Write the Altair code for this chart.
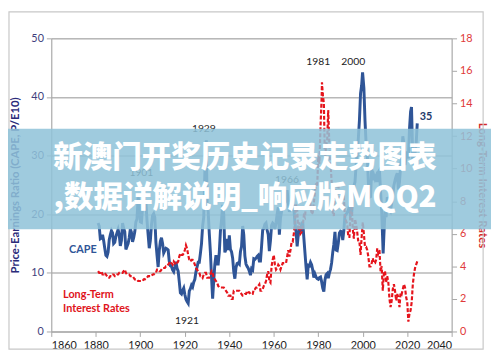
import altair as alt
import pandas as pd

# ---------------- data ----------------
cape_start = 1881
# January values (Shiller CAPE)
cape_jan = [18.5, 15.8, 16.5, 14.2, 12.8, 15.6, 17.2, 15.0, 16.2, 17.4,
            14.6, 18.5, 17.0, 14.5, 16.0, 16.9, 16.0, 18.7, 22.9, 18.7,
            21.2, 21.0, 18.9, 14.2, 18.2, 20.1, 15.2, 11.0, 15.4, 15.0,
            13.8, 14.1, 12.0, 11.1, 10.2, 11.9, 10.3, 6.6, 7.0, 6.3,
            5.1, 6.9, 7.9, 8.4, 10.2, 11.8, 13.3, 18.0, 27.1, 21.9,
            16.7, 9.3, 8.7, 13.0, 11.5, 17.1, 21.6, 13.5, 15.8, 16.4,
            13.6, 10.2, 10.9, 11.7, 13.6, 18.0, 12.9, 11.1, 10.3, 10.7,
            12.4, 12.5, 13.0, 12.0, 17.3, 18.3, 17.3, 13.7, 18.1, 18.3,
            18.5, 21.2, 19.3, 21.6, 23.3, 24.1, 20.4, 21.5, 21.2, 17.1,
            16.5, 17.3, 18.7, 13.5, 8.9, 11.2, 11.4, 9.2, 9.3, 8.9,
            9.3, 7.4, 8.8, 9.9, 10.0, 11.7, 14.9, 13.9, 15.1, 17.1,
            15.6, 19.8, 20.3, 21.4, 20.2, 24.8, 28.3, 32.9, 40.6, 43.8,
            36.0, 30.3, 22.9, 27.7, 26.6, 26.5, 27.2, 24.0, 15.2, 20.5,
            22.9, 21.2, 21.9, 24.9, 26.5, 24.2, 28.1, 33.3, 28.4, 30.7,
            34.5, 36.9, 28.7, 32.0]
# July values
cape_jul = [18.0, 15.9, 15.5, 13.0, 13.5, 16.5, 16.8, 15.2, 16.8, 16.5,
            15.5, 17.6, 14.0, 15.0, 17.5, 15.3, 17.0, 19.2, 22.0, 18.6,
            24.5, 22.0, 16.5, 15.5, 19.8, 19.5, 13.0, 13.8, 16.0, 13.4,
            14.2, 13.9, 11.2, 10.5, 11.0, 10.8, 8.5, 6.4, 7.4, 5.5,
            4.8, 7.3, 7.6, 8.9, 11.0, 11.8, 15.0, 19.5, 31.0, 20.5,
            13.5, 5.6, 11.5, 11.5, 13.5, 19.0, 20.0, 14.0, 13.9, 14.0,
            12.5, 9.0, 11.6, 11.5, 14.5, 16.5, 11.5, 10.8, 9.6, 10.5,
            12.3, 12.8, 12.0, 14.5, 17.6, 18.5, 16.5, 15.5, 18.5, 17.5,
            20.0, 16.5, 20.5, 22.5, 22.8, 22.0, 21.5, 21.0, 18.5, 14.5,
            17.5, 18.2, 16.0, 11.0, 11.3, 11.8, 10.5, 9.8, 9.0, 9.2,
            8.5, 6.8, 9.7, 9.1, 10.6, 13.5, 17.0, 13.8, 16.8, 17.0,
            17.3, 20.0, 20.7, 19.8, 22.5, 25.5, 30.5, 36.0, 42.0, 41.5,
            32.0, 25.5, 23.0, 25.8, 26.0, 25.5, 27.5, 20.5, 16.5, 19.5,
            22.5, 20.7, 23.5, 25.8, 27.0, 25.5, 29.8, 32.0, 29.8, 29.5,
            37.5, 29.0, 30.5, 35.5]
cape_peak_year = [1929.7, 1999.95, 2021.95, 2009.2]
cape_peak_val = [32.6, 44.2, 38.3, 13.3]

rate_jan = [3.7, 3.6, 3.5, 3.6, 3.4, 3.3, 3.4, 3.5, 3.4, 3.5,
            3.6, 3.6, 3.8, 3.5, 3.5, 3.4, 3.3, 3.2, 3.1, 3.1,
            3.1, 3.2, 3.3, 3.4, 3.4, 3.5, 3.6, 3.8, 3.7, 3.9,
            3.9, 4.0, 4.2, 4.2, 4.3, 4.1, 4.3, 4.8, 4.7, 5.0,
            5.1, 4.4, 4.4, 4.3, 3.9, 3.7, 3.4, 3.3, 3.6, 3.3,
            3.3, 3.7, 3.3, 3.1, 2.8, 2.7, 2.7, 2.6, 2.4, 2.2,
            2.0, 2.5, 2.5, 2.5, 2.4, 2.2, 2.3, 2.5, 2.4, 2.3,
            2.6, 2.7, 2.8, 2.5, 2.6, 2.9, 3.5, 3.1, 4.0, 4.7,
            3.8, 4.1, 3.8, 4.2, 4.2, 4.6, 4.6, 5.5, 6.0, 7.8,
            6.2, 6.0, 6.5, 7.0, 7.5, 7.7, 7.2, 7.9, 9.1, 10.8,
            12.6, 14.6, 10.5, 11.7, 11.4, 9.2, 7.1, 8.7, 9.1, 7.9,
            8.1, 7.0, 6.6, 5.8, 7.8, 5.7, 6.6, 5.5, 4.7, 6.7,
            5.2, 5.0, 4.0, 4.2, 4.2, 4.4, 4.8, 3.7, 2.5, 3.7,
            3.4, 2.0, 1.9, 2.9, 1.9, 2.1, 2.4, 2.6, 2.7, 1.8,
            1.1, 1.8, 3.5, 4.1]
rate_jul = [3.6, 3.7, 3.5, 3.5, 3.3, 3.4, 3.5, 3.4, 3.5, 3.6,
            3.6, 3.7, 3.6, 3.5, 3.4, 3.4, 3.2, 3.2, 3.1, 3.1,
            3.2, 3.3, 3.4, 3.4, 3.5, 3.6, 3.8, 3.7, 3.8, 3.9,
            4.0, 4.1, 4.3, 4.1, 4.2, 4.2, 4.6, 4.7, 4.8, 5.3,
            4.7, 4.3, 4.4, 4.1, 3.8, 3.6, 3.4, 3.5, 3.6, 3.3,
            3.5, 3.6, 3.2, 3.0, 2.7, 2.7, 2.7, 2.5, 2.2, 2.2,
            2.0, 2.5, 2.5, 2.5, 2.3, 2.2, 2.3, 2.4, 2.3, 2.3,
            2.6, 2.7, 2.9, 2.5, 2.8, 3.1, 3.7, 3.0, 4.4, 4.1,
            3.9, 4.0, 4.0, 4.2, 4.2, 5.0, 5.0, 5.5, 6.7, 7.5,
            6.7, 6.1, 7.1, 7.8, 8.0, 7.8, 7.3, 8.6, 8.9, 10.3,
            14.3, 14.0, 11.4, 13.4, 10.3, 7.3, 8.6, 9.0, 8.0, 8.5,
            8.2, 6.8, 5.8, 7.3, 6.3, 6.9, 6.1, 5.5, 5.8, 6.0,
            5.2, 4.6, 4.0, 4.5, 4.2, 5.1, 5.0, 4.0, 3.6, 3.0,
            3.0, 1.5, 2.6, 2.5, 2.3, 1.5, 2.3, 2.9, 2.1, 0.6,
            1.3, 2.9, 3.9, 4.3]
rate_peak_year = [1981.7, 1984.5]
rate_peak_val = [15.3, 13.6]

year_labels = ["1929", "1901", "1966", "1981", "2000", "1921"]
year_label_x = [1928.6, 1900.5, 1966.0, 1980.0, 1995.8, 1921.0]
year_label_y = [34.5, 27.0, 25.8, 45.9, 45.9, 1.8]

end_label = ["35"]
end_label_x = [2028.5]
end_label_y = [36.6]

cape_label = ["CAPE"]
cape_label_x = [1868.0]
cape_label_y = [13.9]

rate_label = ["Long-Term", "Interest Rates"]
rate_label_x = [1865.3, 1865.3]
rate_label_y = [6.2, 3.9]

banner_lines = ["新澳门开奖历史记录走势图表", ",数据详解说明_响应版MQQ2"]

# ---------------- frames ----------------
def series(jan, jul, py, pv):
    rows = []
    for i, v in enumerate(jan):
        rows.append((cape_start + i + 0.04, v))
    for i, v in enumerate(jul):
        rows.append((cape_start + i + 0.54, v))
    rows += list(zip(py, pv))
    df = pd.DataFrame(rows, columns=["year", "value"]).sort_values("year")
    return df

cape_df = series(cape_jan, cape_jul, cape_peak_year, cape_peak_val)
rate_df = series(rate_jan, rate_jul, rate_peak_year, rate_peak_val)

FONT = "Lato"
xscale = alt.Scale(domain=[1860, 2040], nice=False, zero=False)
xaxis = alt.Axis(values=list(range(1860, 2041, 20)), format="d", title=None,
                 grid=False, labelColor="#222222", labelFontSize=11, labelFont=FONT,
                 domainColor="#a6a6a6", tickColor="#a6a6a6", tickSize=5, labelPadding=3,
                 domainWidth=1.2)
yl_scale = alt.Scale(domain=[0, 50], nice=False)
yl_axis = alt.Axis(values=list(range(0, 51, 5)), title="Price-Earnings Ratio (CAPE, P/E10)",
                   titleColor="#2b2b7a", titleFont=FONT, titleFontSize=11.5, titleFontWeight="bold",
                   titlePadding=11, labelColor="#3f3f7c", labelFont=FONT, labelFontSize=11,
                   grid=True, gridColor="#b8b8b8", gridWidth=1.5,
                   domainColor="#a6a6a6", tickColor="#a6a6a6", tickSize=5, labelPadding=3)
yr_scale = alt.Scale(domain=[0, 18], nice=False)
yr_axis = alt.Axis(values=list(range(0, 19, 2)), orient="right", title="Long-Term Interest Rates",
                   titleColor="#d42a2a", titleFont=FONT, titleFontSize=11.5, titleFontWeight="bold",
                   titlePadding=5, labelColor="#e03a3a", labelFont=FONT, labelFontSize=11,
                   grid=False, domainColor="#a6a6a6", tickColor="#a6a6a6", tickSize=5, labelPadding=3)

cape_line = alt.Chart(cape_df).mark_line(color="#2f5597", strokeWidth=3).encode(
    x=alt.X("year:Q", scale=xscale, axis=xaxis),
    y=alt.Y("value:Q", scale=yl_scale, axis=yl_axis),
)

def txt(labels, xs, ys, **kw):
    df = pd.DataFrame({"label": labels, "x": xs, "y": ys})
    return alt.Chart(df).mark_text(font=FONT, **kw).encode(
        x=alt.X("x:Q", scale=xscale), y=alt.Y("y:Q", scale=yl_scale), text="label:N")

t_years = txt(year_labels, year_label_x, year_label_y, fontSize=10.5, color="#222222")
t_end = txt(end_label, end_label_x, end_label_y, fontSize=11, color="#1f3a6b", fontWeight="bold")
t_cape = txt(cape_label, cape_label_x, cape_label_y, fontSize=11, color="#2f5597", fontWeight="bold", align="left")
t_rate = txt(rate_label, rate_label_x, rate_label_y, fontSize=11, color="#e0141b", fontWeight="bold", align="left")

left = alt.layer(cape_line, t_years, t_end, t_cape, t_rate)

rate_line = alt.Chart(rate_df).mark_line(color="#e5141c", strokeWidth=2.2, strokeDash=[4, 2]).encode(
    x=alt.X("year:Q", scale=xscale, axis=xaxis),
    y=alt.Y("value:Q", scale=yr_scale, axis=yr_axis),
)

main = alt.layer(left, rate_line).resolve_scale(y="independent")

# decorative overlays (pixel positioned)
dummy = pd.DataFrame({"a": [0]})
border = alt.Chart(dummy).mark_rect(fill=None, stroke="#c8c8c8", strokeWidth=1.2).encode(
    x=alt.value(-43), x2=alt.value(439), y=alt.value(-27), y2=alt.value(316))
banner = alt.Chart(dummy).mark_rect(fill="#8fc3d9", opacity=0.86).encode(
    x=alt.value(-44), x2=alt.value(447), y=alt.value(92), y2=alt.value(194))
btext1 = alt.Chart(pd.DataFrame({"t": [banner_lines[0]]})).mark_text(
    font="Noto Sans CJK SC", fontSize=30, fontWeight=900, color="white", align="center", baseline="middle"
).encode(x=alt.value(197), y=alt.value(122), text="t:N")
btext2 = alt.Chart(pd.DataFrame({"t": [banner_lines[1]]})).mark_text(
    font="Noto Sans CJK SC", fontSize=30, fontWeight=900, color="white", align="center", baseline="middle"
).encode(x=alt.value(197), y=alt.value(162), text="t:N")

chart = alt.layer(main, border, banner, btext1, btext2).properties(
    width=407, height=298,
    autosize=alt.AutoSizeParams(type="none"),
    padding={"left": 44, "top": 28, "right": 40, "bottom": 18},
).configure_view(strokeWidth=0).configure(background="white")

chart.save("out.html", embed_options={"renderer": "svg", "actions": False})
